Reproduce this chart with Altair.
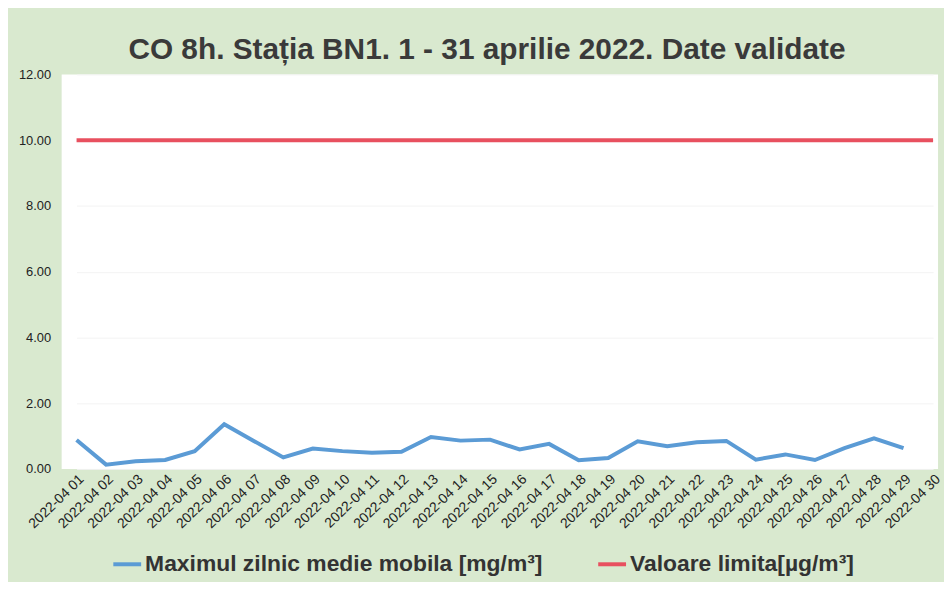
import altair as alt
import pandas as pd

days = [f"2022-04 {d:02d}" for d in range(1, 31)]
co_values = [0.88, 0.13, 0.23, 0.27, 0.54, 1.36, 0.85, 0.35, 0.62, 0.54,
             0.49, 0.52, 0.97, 0.86, 0.89, 0.59, 0.76, 0.26, 0.33, 0.84,
             0.69, 0.81, 0.85, 0.28, 0.44, 0.27, 0.63, 0.93, 0.63]
limit_values = [10.0] * 30
series_names = ["Maximul zilnic medie mobila [mg/m³]", "Valoare limita[µg/m³]"]
series_colors = ["#5b9bd5", "#e8505f"]

rows = []
for d, v in zip(days, co_values):
    rows.append({"day": d, "value": v, "series": series_names[0]})
for d, v in zip(days, limit_values):
    rows.append({"day": d, "value": v, "series": series_names[1]})
df = pd.DataFrame(rows)

FONT = "Liberation Sans, Arial, sans-serif"

chart = alt.Chart(df).mark_line(strokeWidth=4).encode(
    x=alt.X("day:N", sort=days,
            scale=alt.Scale(type="point", range=[15, 877], padding=0),
            axis=alt.Axis(title=None, labelAngle=316, labelFont=FONT, labelFontSize=14,
                          labelColor="#222222", domain=False, ticks=False, grid=False,
                          labelPadding=3, labelOverlap=False)),
    y=alt.Y("value:Q", scale=alt.Scale(domain=[0, 12]),
            axis=alt.Axis(title=None, values=[0, 2, 4, 6, 8, 10, 12], format=".2f",
                          labelFont=FONT, labelFontSize=13, labelColor="#222222",
                          domain=False, ticks=False, grid=True, gridColor="#f3f3f3",
                          labelPadding=11)),
    color=alt.Color("series:N", sort=series_names,
                    scale=alt.Scale(domain=series_names, range=series_colors),
                    legend=alt.Legend(title=None, orient="none", direction="horizontal",
                                      legendX=50, legendY=477,
                                      symbolType="stroke", symbolSize=784,
                                      symbolStrokeWidth=4, labelOffset=2,
                                      columnPadding=47,
                                      labelFont=FONT, labelFontSize=23,
                                      labelFontWeight="bold", labelColor="#333333",
                                      labelLimit=0)),
).properties(
    width=882,
    height=397,
    padding={"left": 54, "top": 65, "right": 6, "bottom": 112},
    autosize=alt.AutoSizeParams(type="none"),
    background="#d9e9cf",
    title=alt.TitleParams("CO 8h. Stația BN1. 1 - 31 aprilie 2022. Date validate",
                          font=FONT, fontSize=30, fontWeight="bold",
                          color="#3a3a3a", anchor="middle", frame="group",
                          offset=4, dx=-13),
).configure_view(fill="white", stroke=None)

chart.save("out.html", embed_options={"renderer": "svg", "actions": False})
